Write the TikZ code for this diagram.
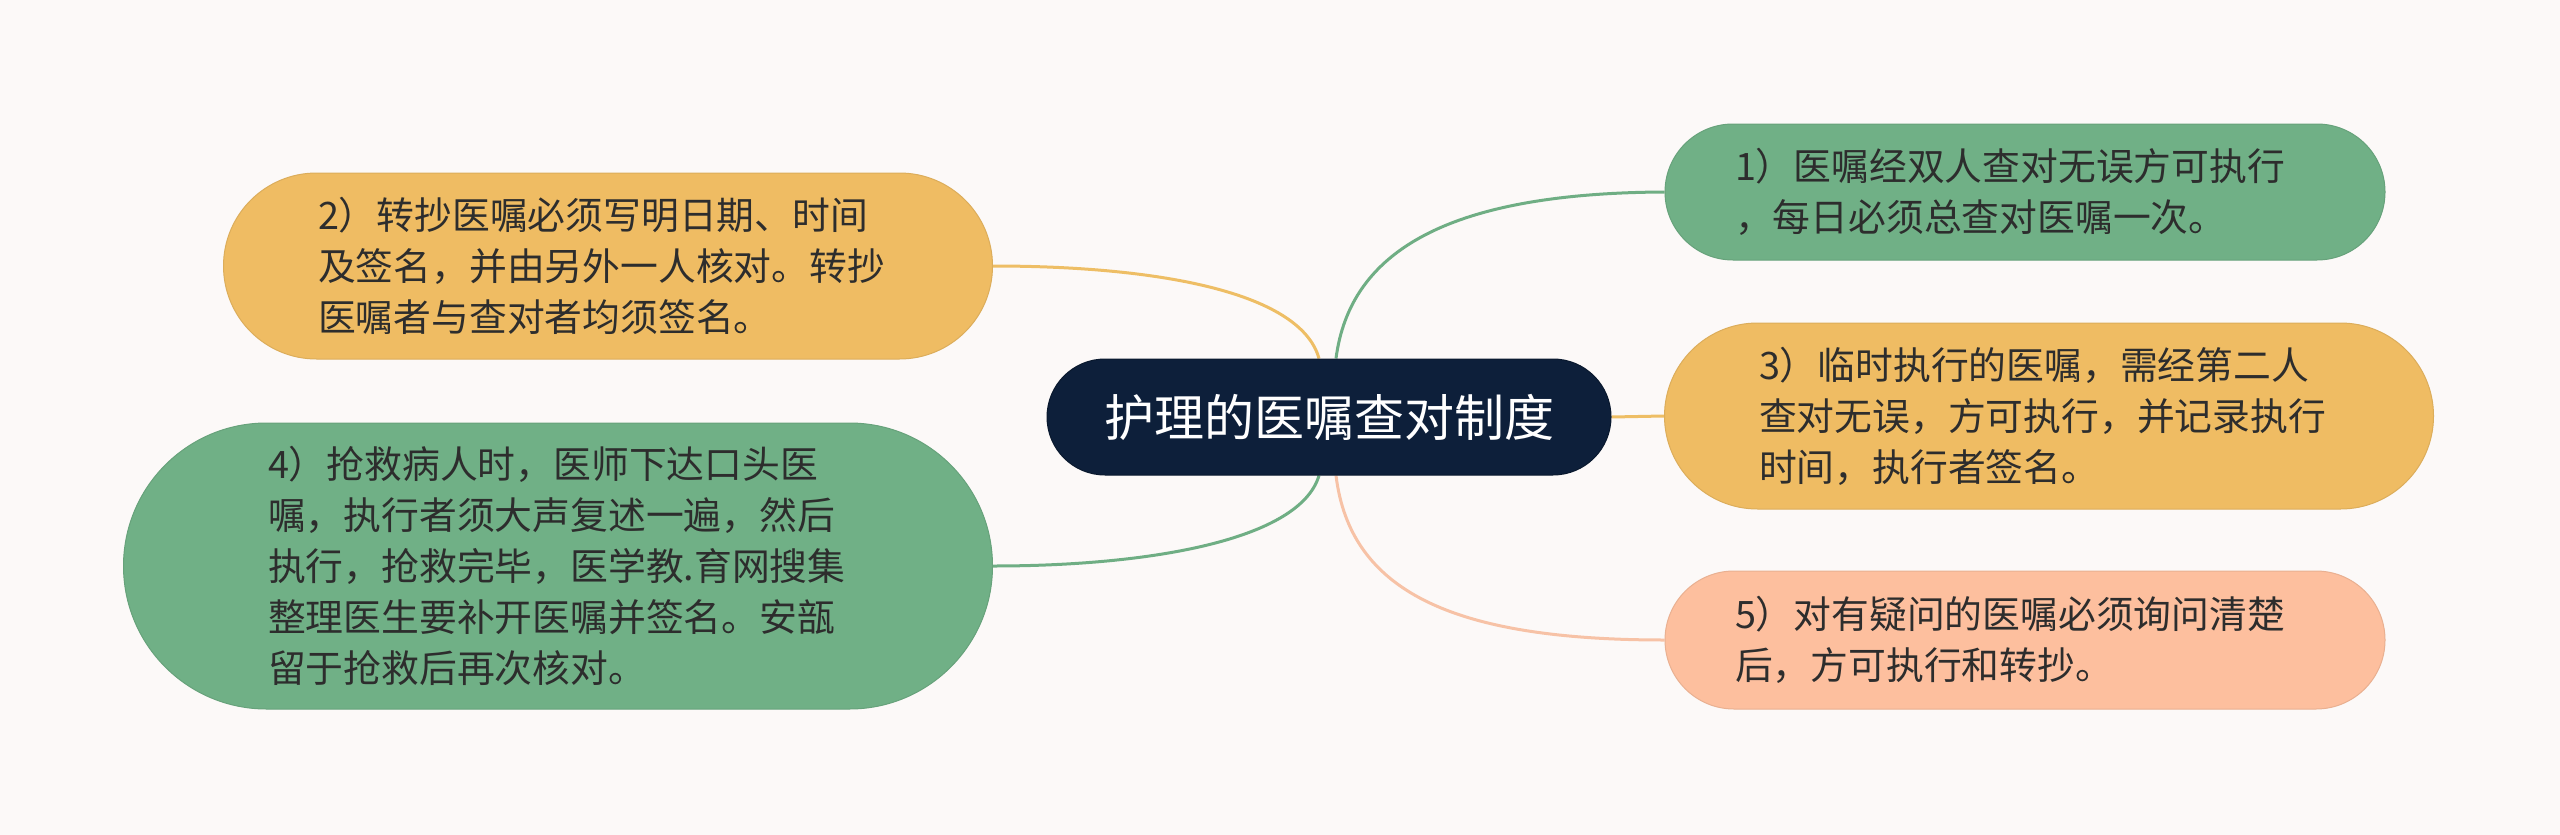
\documentclass[tikz,border=0pt]{standalone}
\usepackage{fontspec}
\setmainfont{Noto Sans CJK SC}
\usetikzlibrary{calc,backgrounds}
\definecolor{bg}{HTML}{FCF9F8}
\definecolor{gr}{HTML}{70B086}
\definecolor{og}{HTML}{EFBC63}
\definecolor{pc}{HTML}{FDBF9E}
\definecolor{nv}{HTML}{0D1F3A}
\definecolor{tx}{HTML}{2D2D2D}
\definecolor{lgr}{HTML}{6FAE84}
\definecolor{log}{HTML}{EEBE65}
\definecolor{lpc}{HTML}{F7C2A6}
\tikzset{
  topic/.style={rounded corners=#1, align=left, text=tx, inner sep=0pt,
    text width=580pt, font=\fontsize{37.8}{51}\selectfont},
  link/.style={line width=3pt},
}
\begin{document}
\begin{tikzpicture}[x=1pt,y=-1pt]
\useasboundingbox (0,0) rectangle (2560,835);

\node[rounded corners=58pt, fill=nv, draw=nv!80!black, line width=1pt, minimum width=564pt, minimum height=116pt, text=white, font=\fontsize{50}{60}\selectfont, inner sep=0pt] (c) at (1329,417) {护理的医嘱查对制度};

\node[topic=93pt, fill=og, draw=og!92!black, line width=1pt, minimum width=769pt, minimum height=186pt] (n2) at (608,266)
 {2）转抄医嘱必须写明日期、时间\\及签名，并由另外一人核对。转抄\\医嘱者与查对者均须签名。};
\node[topic=143pt, fill=gr, draw=gr!92!black, line width=1pt, minimum width=869pt, minimum height=286pt] (n4) at (558,566)
 {4）抢救病人时，医师下达口头医\\嘱，执行者须大声复述一遍，然后\\执行，抢救完毕，医学教.育网搜集\\整理医生要补开医嘱并签名。安瓿\\留于抢救后再次核对。};
\node[topic=68pt, fill=gr, draw=gr!92!black, line width=1pt, minimum width=720pt, minimum height=136pt] (n1) at (2025,192)
 {1）医嘱经双人查对无误方可执行\\，每日必须总查对医嘱一次。};
\node[topic=93pt, fill=og, draw=og!92!black, line width=1pt, minimum width=769pt, minimum height=186pt] (n3) at (2049,416)
 {3）临时执行的医嘱，需经第二人\\查对无误，方可执行，并记录执行\\时间，执行者签名。};
\node[topic=69pt, fill=pc, draw=pc!92!black, line width=1pt, minimum width=720pt, minimum height=138pt] (n5) at (2025,640)
 {5）对有疑问的医嘱必须询问清楚\\后，方可执行和转抄。};

\begin{pgfonlayer}{background}
\fill[bg] (0,0) rectangle (2560,835);
\draw[link, lgr] ($(c.north)+(7,0)$) .. controls (1350,250) and (1450,193) .. (n1.west);
\draw[link, log] ($(c.north)+(-10,0)$) .. controls (1300,290) and (1150,266) .. (n2.east);
\draw[link, log] (c.east) -- (n3.west);
\draw[link, lgr] ($(c.south)+(-10,0)$) .. controls (1300,540) and (1150,566) .. (n4.east);
\draw[link, lpc] ($(c.south)+(7,0)$) .. controls (1350,590) and (1450,640) .. (n5.west);
\end{pgfonlayer}
\end{tikzpicture}
\end{document}
